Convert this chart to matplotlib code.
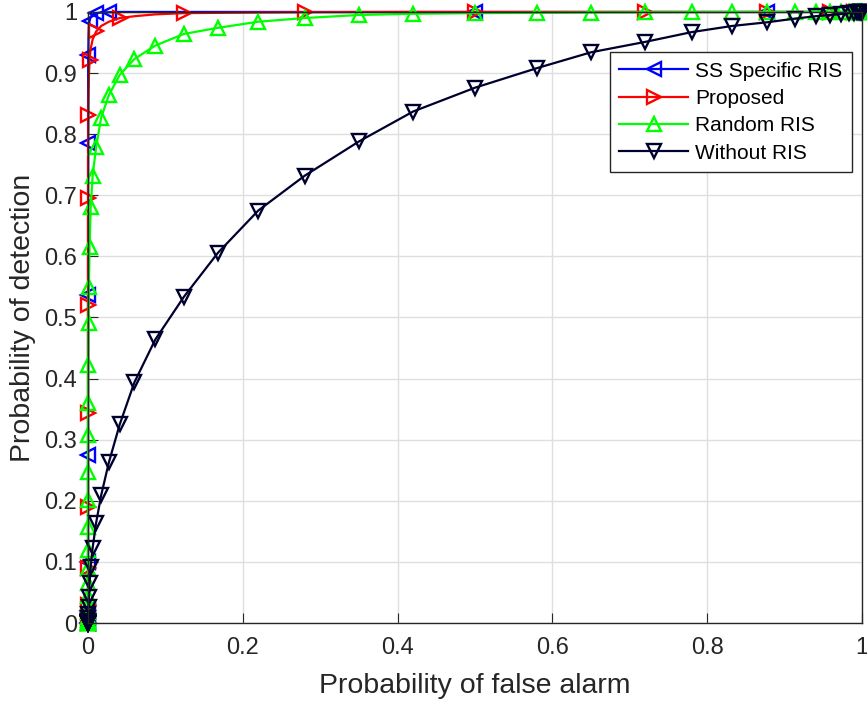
import matplotlib.pyplot as plt
import numpy as np

plt.rcParams['font.family'] = ['Liberation Sans', 'DejaVu Sans']

# probability of false alarm grid (from 1 down to 0)
pfa = [1.0, 0.9995, 0.999, 0.998, 0.9965, 0.994, 0.99, 0.983, 0.973, 0.959,
       0.94, 0.913, 0.877, 0.832, 0.78, 0.72, 0.65, 0.58,
       0.5, 0.42, 0.35, 0.28, 0.22, 0.168, 0.124, 0.087, 0.060, 0.041,
       0.027, 0.017, 0.0105, 0.006, 0.0035, 0.002, 0.0012, 0.0007, 0.0004, 0.0002,
       1e-4, 5e-5, 2e-5, 1e-5, 5e-6, 2e-6, 1e-6, 5e-7, 2e-7, 1e-7,
       5e-8, 2e-8, 1e-8, 5e-9, 2e-9, 1e-9, 5e-10, 2e-10, 1e-10, 0.0]

pd_ss = [1.0]*28 + [0.9995, 0.999, 0.998, 0.996, 0.992, 0.985, 0.975, 0.958, 0.93, 0.9,
         0.85, 0.786, 0.71, 0.625, 0.537, 0.45, 0.36, 0.275, 0.2, 0.14,
         0.1, 0.065, 0.04, 0.02, 0.01, 0.004, 0.0, 0.0, 0.0, 0.0]

pd_prop = [1.0]*19 + [1.0, 0.9998, 0.9995, 0.999, 0.9985, 0.998, 0.996, 0.993, 0.990,
           0.984, 0.977, 0.968, 0.955, 0.94, 0.922, 0.895, 0.865, 0.832, 0.79,
           0.745, 0.695, 0.637, 0.58, 0.52, 0.46, 0.40, 0.343, 0.29, 0.238,
           0.19, 0.15, 0.118, 0.09, 0.065, 0.045, 0.03, 0.018, 0.008, 0.0]

pd_rand = [1.0, 1.0, 1.0, 1.0, 1.0, 1.0, 1.0, 1.0, 1.0, 1.0,
           1.0, 1.0, 0.9998, 0.9997, 0.9995, 0.9993, 0.999, 0.9985,
           0.998, 0.997, 0.995, 0.990, 0.984, 0.974, 0.964, 0.945, 0.923, 0.897,
           0.864, 0.827, 0.779, 0.732, 0.681, 0.615, 0.55, 0.491, 0.422, 0.36,
           0.308, 0.247, 0.201, 0.157, 0.119, 0.09, 0.065, 0.045, 0.03, 0.018,
           0.01, 0.005, 0.002, 0.001, 0.0, 0.0, 0.0, 0.0, 0.0, 0.0]

pd_none = [1.0, 1.0, 0.9999, 0.9998, 0.9996, 0.9993, 0.999, 0.998, 0.9965, 0.995,
           0.993, 0.989, 0.983, 0.977, 0.967, 0.951, 0.934, 0.908,
           0.876, 0.837, 0.788, 0.732, 0.675, 0.606, 0.534, 0.464, 0.394, 0.325,
           0.263, 0.209, 0.164, 0.123, 0.092, 0.065, 0.043, 0.026, 0.015, 0.008,
           0.004, 0.002, 0.001, 0.0005, 0.0002, 0.0001, 0.0, 0.0, 0.0, 0.0,
           0.0, 0.0, 0.0, 0.0, 0.0, 0.0, 0.0, 0.0, 0.0, 0.0]

ss_marks = [0, 6, 12, 18, 28, 30, 33, 36, 39, 42, 45, 48, 51, 54, 57]

labels = ['SS Specific RIS', 'Proposed', 'Random RIS', 'Without RIS']

fig = plt.figure(figsize=(8.67, 7.02), dpi=100)
ax = fig.add_axes([0.1015, 0.1125, 0.8927, 0.8705])

style = dict(mfc='none', ms=10.5, mew=1.7, lw=1.6, clip_on=False)
ax.plot(pfa, pd_ss, color=(0, 0, 1), marker='<', markevery=ss_marks, label=labels[0], **style)
ax.plot(pfa, pd_prop, color=(1, 0, 0), marker='>', markevery=3, label=labels[1], **style)
ax.plot(pfa, pd_rand, color=(0, 1, 0), marker='^', label=labels[2], **style)
ax.plot(pfa, pd_none, color='#00002e', marker='v', label=labels[3], **style)

ax.set_xlim(0, 1)
ax.set_ylim(0, 1)
ax.set_xticks(np.arange(0, 1.01, 0.2))
ax.set_xticklabels(['0', '0.2', '0.4', '0.6', '0.8', '1'])
ax.set_yticks(np.arange(0, 1.01, 0.1))
ax.set_yticklabels(['0', '0.1', '0.2', '0.3', '0.4', '0.5', '0.6', '0.7', '0.8', '0.9', '1'])
ax.tick_params(direction='in', length=7, labelsize=17, colors='#262626')
ax.tick_params(axis='x', pad=10)
ax.tick_params(axis='y', pad=8)
ax.grid(True, color='#dfdfdf', lw=1)
ax.set_axisbelow(True)
for s in ax.spines.values():
    s.set_color('#262626')
    s.set_linewidth(1)

ax.set_xlabel('Probability of false alarm', fontsize=20.5, color='#262626', labelpad=10)
ax.set_ylabel('Probability of detection', fontsize=20.5, color='#262626', labelpad=6)

leg = ax.legend(loc='upper right', bbox_to_anchor=(0.987, 0.934), fontsize=15,
                fancybox=False, framealpha=1, edgecolor='#262626',
                handlelength=3.3, borderpad=0.45, labelspacing=0.4,
                handletextpad=0.35, borderaxespad=0)
leg.get_frame().set_linewidth(1)

fig.savefig('out.png', dpi=100)
